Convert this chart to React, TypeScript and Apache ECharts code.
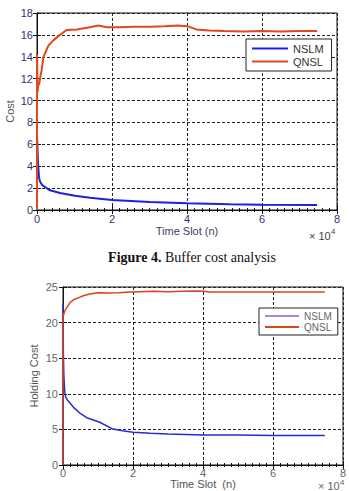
import React, { useEffect, useRef } from "react";
import * as echarts from "echarts";

// Buffer cost (upper panel)
const costNslmX = [0, 0, 270, 530, 800, 1330, 2130, 3470, 6130, 10130, 14130, 20000, 30130, 40000, 51470, 60000, 74670];
const costNslmY = [0, 6.9, 4.3, 3.0, 2.6, 2.3, 2.1, 1.8, 1.55, 1.3, 1.12, 0.92, 0.72, 0.62, 0.52, 0.47, 0.45];
const costQnslX = [0, 0, 150, 350, 550, 800, 1250, 1680, 2130, 3000, 4350, 6130, 7900, 10600, 14100, 16300, 18600, 22000, 26000, 30000, 34000, 37500, 40000, 42500, 46000, 50000, 55000, 60000, 65000, 70000, 74700];
const costQnslY = [0, 14.2, 10.8, 11.6, 11.4, 12.0, 12.8, 13.9, 14.3, 15.0, 15.5, 16.0, 16.45, 16.5, 16.7, 16.85, 16.7, 16.7, 16.75, 16.75, 16.8, 16.85, 16.8, 16.5, 16.4, 16.35, 16.3, 16.35, 16.3, 16.35, 16.35];

// Holding cost (lower panel)
const holdNslmX = [0, 0, 100, 250, 500, 800, 1300, 2000, 3000, 4800, 7000, 10500, 14000, 17000, 20000, 25000, 30000, 35000, 40000, 50000, 60000, 70000, 74800];
const holdNslmY = [0, 22.7, 16, 12.5, 10.2, 9.5, 9.1, 8.7, 8.1, 7.3, 6.6, 6.0, 5.1, 4.8, 4.6, 4.45, 4.35, 4.3, 4.2, 4.2, 4.15, 4.15, 4.15];
const holdQnslX = [0, 0, 150, 400, 800, 1300, 2000, 3000, 4500, 6000, 8000, 10000, 13000, 16000, 19000, 22000, 26000, 30000, 34000, 38000, 40000, 42000, 46000, 52000, 58000, 64000, 70000, 74800];
const holdQnslY = [0, 21.3, 21.0, 21.5, 21.9, 22.3, 22.8, 23.2, 23.5, 23.8, 24.05, 24.2, 24.15, 24.2, 24.3, 24.35, 24.4, 24.35, 24.4, 24.45, 24.4, 24.3, 24.3, 24.3, 24.3, 24.3, 24.3, 24.3];

const seriesNames = ["NSLM", "QNSL"];

const zip = (xs: number[], ys: number[]) => xs.map((x, i) => [x, ys[i]]);

const FONT = "Liberation Sans, Arial, sans-serif";

function xAxes(grid: number, labelColor: string, nameColor: string, name: string, nameGap: number, margin: number) {
  const base = {
    gridIndex: grid,
    type: "value",
    min: 0,
    max: 80000,
    interval: 20000,
    axisLine: { lineStyle: { color: "#111", width: 1 } },
    axisTick: { inside: true, length: 4, lineStyle: { color: "#111" } },
    minorTick: { show: true, splitNumber: 10, length: 2, lineStyle: { color: "#111" } },
  };
  return [
    {
      ...base,
      position: "bottom",
      axisLabel: { color: labelColor, fontSize: 11, fontFamily: FONT, margin, formatter: (v: number) => String(v / 10000) },
      splitLine: { show: true, lineStyle: { color: "#222", type: [3, 2], width: 1 } },
      name,
      nameLocation: "middle",
      nameGap,
      nameTextStyle: { color: nameColor, fontSize: 11, fontFamily: FONT },
    },
    {
      ...base,
      position: "top",
      axisLabel: { show: false },
      splitLine: { show: false },
    },
  ];
}

function yAxes(grid: number, max: number, interval: number, labelColor: string, name: string, nameGap: number, margin: number) {
  const base = {
    gridIndex: grid,
    type: "value",
    min: 0,
    max,
    interval,
    axisLine: { show: true, lineStyle: { color: "#111", width: 1 } },
    axisTick: { show: true, inside: true, length: 4, lineStyle: { color: "#111" } },
  };
  return [
    {
      ...base,
      position: "left",
      axisLabel: { color: labelColor, fontSize: 11, fontFamily: FONT, margin },
      splitLine: { show: true, lineStyle: { color: "#222", type: [3, 2], width: 1 } },
      name,
      nameLocation: "middle",
      nameGap,
      nameMoveOverlap: false,
      nameTextStyle: { color: "#555", fontSize: 11, fontFamily: FONT },
    },
    {
      ...base,
      position: "right",
      axisLabel: { show: false },
      splitLine: { show: false },
    },
  ];
}

export default function App() {
  const ref = useRef<HTMLDivElement>(null);

  useEffect(() => {
    if (!ref.current) return;
    const chart = echarts.init(ref.current, undefined, { renderer: "svg" });

    const line = (name: string, data: number[][], color: string, width: number, xi: number, yi: number) => ({
      type: "line",
      name,
      data,
      xAxisIndex: xi,
      yAxisIndex: yi,
      symbol: "none",
      clip: false,
      lineStyle: { color, width },
      itemStyle: { color },
    });

    chart.setOption({
      animation: false,
      backgroundColor: "#fff",
      textStyle: { fontFamily: FONT },
      grid: [
        { left: 37, top: 13, width: 300, height: 197, show: true, borderColor: "#111", borderWidth: 1, backgroundColor: "#fff", outerBoundsMode: "none", containLabel: false },
        { left: 63, top: 287, width: 280, height: 178, show: true, borderColor: "#111", borderWidth: 1, backgroundColor: "#fff", outerBoundsMode: "none", containLabel: false },
      ],
      xAxis: [
        ...xAxes(0, "#3b2f78", "#3f3a5e", "Time Slot (n)", 15, 3),
        ...xAxes(1, "#666", "#555", "Time Slot  (n)", 13, 2),
      ],
      yAxis: [
        ...yAxes(0, 18, 2, "#3b2f78", "Cost", 22, 4),
        ...yAxes(1, 25, 5, "#666", "Holding Cost", 24, 5),
      ],
      legend: [
        {
          data: [
            { name: "NSLM", itemStyle: { color: "#2020e0" } },
            { name: "QNSL", itemStyle: { color: "#e0471c" } },
          ],
          icon: "rect",
          orient: "vertical",
          left: 246,
          top: 39,
          itemWidth: 36,
          itemHeight: 2,
          itemGap: 2,
          padding: [4, 8, 4, 6],
          borderColor: "#222",
          borderWidth: 1,
          backgroundColor: "#fff",
          selectedMode: false,
          textStyle: { fontSize: 11, color: "#333", fontFamily: FONT },
        },
        {
          data: [
            { name: "NSLM", itemStyle: { color: "#9090f0" } },
            { name: "QNSL", itemStyle: { color: "#d5461a" } },
          ],
          icon: "rect",
          orient: "vertical",
          left: 259,
          top: 308,
          itemWidth: 34,
          itemHeight: 2,
          itemGap: 1,
          padding: [3, 6, 3, 6],
          borderColor: "#222",
          borderWidth: 1,
          backgroundColor: "#fff",
          selectedMode: false,
          textStyle: { fontSize: 10, color: "#666", fontFamily: FONT },
        },
      ],
      series: [
        line(seriesNames[0], zip(costNslmX, costNslmY), "#2020e0", 2, 0, 0),
        line(seriesNames[1], zip(costQnslX, costQnslY), "#e0471c", 2, 0, 0),
        line(seriesNames[0], zip(holdNslmX, holdNslmY), "#2a2ad0", 1.5, 2, 2),
        line(seriesNames[1], zip(holdQnslX, holdQnslY), "#d5461a", 1.5, 2, 2),
      ],
      graphic: [
        { type: "text", left: 309, top: 230, style: { text: "× 10", fontSize: 11, fill: "#444", fontFamily: FONT } },
        { type: "text", left: 331, top: 227, style: { text: "4", fontSize: 8, fill: "#444", fontFamily: FONT } },
        { type: "text", left: 318, top: 480, style: { text: "× 10", fontSize: 11, fill: "#666", fontFamily: FONT } },
        { type: "text", left: 340, top: 478, style: { text: "4", fontSize: 8, fill: "#666", fontFamily: FONT } },
        {
          type: "text",
          x: 192,
          y: 257,
          style: {
            text: "{b|Figure 4.} Buffer cost analysis",
            fontSize: 14,
            fontFamily: "Liberation Serif, Times New Roman, serif",
            fill: "#111",
            align: "center",
            verticalAlign: "middle",
            rich: {
              b: { fontWeight: "bold", fontSize: 14, fontFamily: "Liberation Serif, Times New Roman, serif", fill: "#111" },
            },
          },
        },
      ],
    });

    return () => chart.dispose();
  }, []);

  return <div ref={ref} style={{ position: "absolute", left: 0, top: 0, width: 349, height: 491 }} />;
}
